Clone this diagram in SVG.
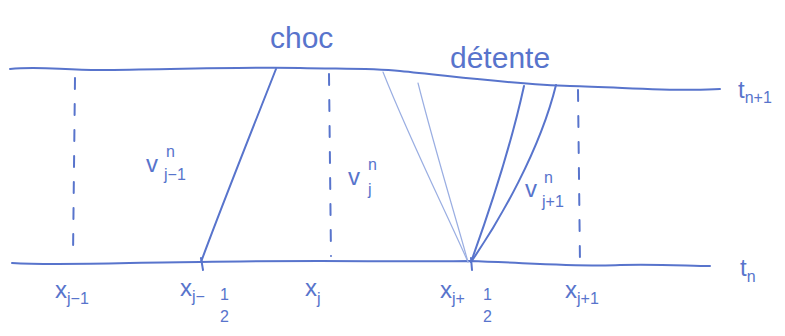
<svg xmlns="http://www.w3.org/2000/svg" width="785" height="336" viewBox="0 0 785 336">
<style>
.ln{fill:none;stroke:#5874cc;stroke-width:2;stroke-linecap:round;stroke-linejoin:round}
.lt{fill:none;stroke:#9aaee2;stroke-width:1.2;stroke-linecap:round}
.ds{fill:none;stroke:#5874cc;stroke-width:2;stroke-dasharray:11 15;stroke-linecap:round}
text{font-family:"Liberation Sans","DejaVu Sans",sans-serif;fill:#5874cc}
.big{font-size:30px}
.lab{font-size:24px}
.sub{font-size:16px}
</style>
<rect width="785" height="336" fill="#ffffff"/>
<g id="connectors">
  <path id="t_np1_line" class="ln" d="M10,69 C40,66 60,70 100,70 C180,69 250,67 300,68 C340,69 370,68 400,71 C460,77 520,85 570,86 C620,87 680,92 720,89"/>
  <path id="t_n_line" class="ln" d="M12,263 C60,266 140,262 200,262 C300,260 400,262 470,261 C530,263 580,267 620,265 C660,264 690,266 710,266"/>
  <path id="shock" class="ln" d="M276,69 C258,115 222,205 201,262"/>
  <path class="ln" d="M201,258 L203,270"/>
  <path class="lt" d="M383,72 C410,140 445,210 468,262"/>
  <path class="lt" d="M418,83 C435,150 455,215 468,262"/>
  <path class="ln" d="M524,86 C510,150 488,215 471,262"/>
  <path class="ln" d="M556,85 C540,150 500,220 471,262"/>
  <path class="ln" d="M471,258 L472,270"/>
  <path class="ds" d="M75,78 L73,256"/>
  <path class="ds" d="M329,74 L331,256"/>
  <path class="ds" d="M578,90 L580,264"/>
</g>
<g id="label-choc"><text x="270" y="48" class="big">choc</text></g>
<g id="label-detente"><text x="450" y="68" class="big" font-size="34">détente</text></g>
<g id="label-tn1"><text x="738" y="98" class="lab">t<tspan class="sub" dy="5">n+1</tspan></text></g>
<g id="label-tn"><text x="740" y="276" class="lab">t<tspan class="sub" dy="6">n</tspan></text></g>
<g id="label-vjm1">
  <text x="146" y="172" class="lab" font-size="28">v</text>
  <text x="166" y="157" class="sub">n</text>
  <text x="164" y="180" class="sub">j−1</text>
</g>
<g id="label-vj">
  <text x="348" y="185" class="lab" font-size="28">v</text>
  <text x="368" y="170" class="sub">n</text>
  <text x="368" y="195" class="sub">j</text>
</g>
<g id="label-vjp1">
  <text x="525" y="197" class="lab" font-size="26">v</text>
  <text x="544" y="183" class="sub">n</text>
  <text x="542" y="207" class="sub">j+1</text>
</g>
<g id="label-xjm1"><text x="55" y="298" class="lab">x<tspan class="sub" dy="6">j−1</tspan></text></g>
<g id="label-xjmh">
  <text x="180" y="296" class="lab">x<tspan class="sub" dy="6">j−</tspan></text>
  <text x="220" y="300" class="sub">1</text>
  <text x="220" y="322" class="sub">2</text>
</g>
<g id="label-xj"><text x="305" y="296" class="lab">x<tspan class="sub" dy="8">j</tspan></text></g>
<g id="label-xjph">
  <text x="440" y="298" class="lab">x<tspan class="sub" dy="6">j+</tspan></text>
  <text x="483" y="300" class="sub">1</text>
  <text x="483" y="322" class="sub">2</text>
</g>
<g id="label-xjp1"><text x="565" y="298" class="lab">x<tspan class="sub" dy="6">j+1</tspan></text></g>
</svg>
